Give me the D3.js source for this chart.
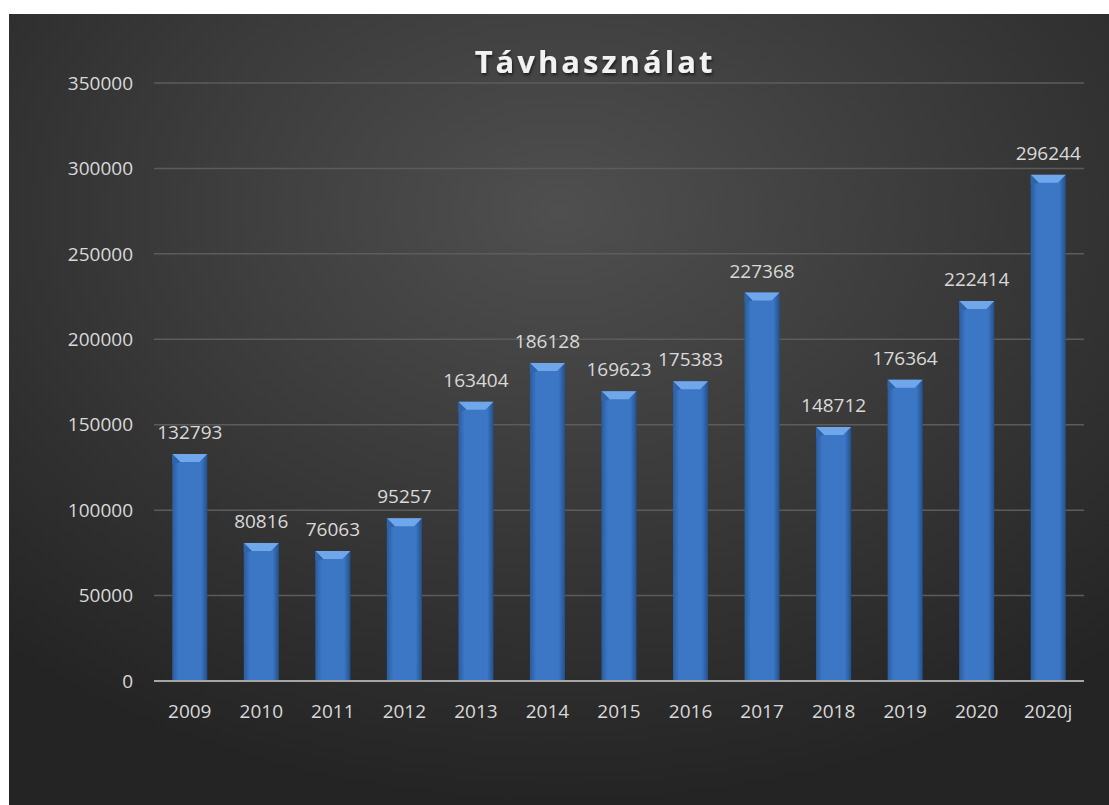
<!DOCTYPE html>
<html>
<head>
<meta charset="utf-8">
<script src="https://cdn.jsdelivr.net/npm/d3@7"></script>
<style>
  body { margin: 0; background: #fff; }
  text { font-family: "Open Sans", "DejaVu Sans", sans-serif; }
</style>
</head>
<body>
<svg id="chart"></svg>
<script>
const years = ['2009','2010','2011','2012','2013','2014','2015','2016','2017','2018','2019','2020','2020j'];
const values = [132793, 80816, 76063, 95257, 163404, 186128, 169623, 175383, 227368, 148712, 176364, 222414, 296244];
const yTicks = [0, 50000, 100000, 150000, 200000, 250000, 300000, 350000];

const W = 1109, H = 805;
const margin = {top: 83, right: 25, bottom: 124, left: 154};
const width = W - margin.left - margin.right;
const height = H - margin.top - margin.bottom;

const svg = d3.select('#chart').attr('width', W).attr('height', H);
const defs = svg.append('defs');

// background radial gradient
const bg = defs.append('radialGradient').attr('id', 'bg')
    .attr('cx', '50%').attr('cy', '25%').attr('r', '75%');
bg.append('stop').attr('offset', '0%').attr('stop-color', '#4f4f4f');
bg.append('stop').attr('offset', '100%').attr('stop-color', '#242424');

// bar gradient, darker at edges
const bar = defs.append('linearGradient').attr('id', 'barGrad')
    .attr('x1', '0%').attr('x2', '100%');
bar.append('stop').attr('offset', '0%').attr('stop-color', '#2b5c9c');
bar.append('stop').attr('offset', '18%').attr('stop-color', '#3b77c5');
bar.append('stop').attr('offset', '82%').attr('stop-color', '#3b77c5');
bar.append('stop').attr('offset', '100%').attr('stop-color', '#24508a');

const shadow = defs.append('filter').attr('id', 'shadow');
shadow.append('feDropShadow').attr('dx', 1).attr('dy', 2).attr('stdDeviation', 1.5)
    .attr('flood-color', '#000').attr('flood-opacity', 0.6);

svg.append('rect')
    .attr('x', 9).attr('y', 14)
    .attr('width', W - 9).attr('height', H - 14)
    .attr('fill', 'url(#bg)');

const chart = svg.append('g')
    .attr('transform', `translate(${margin.left},${margin.top})`);

const xScale = d3.scaleBand().domain(years).range([0, width]).paddingInner(0.51).paddingOuter(0.255);
const yScale = d3.scaleLinear().domain([0, 350000]).range([height, 0]);

// gridlines
chart.selectAll('.grid')
    .data(yTicks.slice(1))
  .join('line')
    .attr('class', 'grid')
    .attr('x1', 0).attr('x2', width)
    .attr('y1', d => yScale(d)).attr('y2', d => yScale(d))
    .attr('stroke', '#5c5c5c').attr('stroke-width', 1.5);

// y tick labels
chart.selectAll('.ylab')
    .data(yTicks)
  .join('text')
    .attr('class', 'ylab')
    .attr('x', -21)
    .attr('y', d => yScale(d))
    .attr('dy', '0.35em')
    .attr('text-anchor', 'end')
    .attr('fill', '#d9d9d9')
    .style('font-size', '19px')
    .text(d => d);

// bars
const bars = chart.selectAll('.bar')
    .data(years)
  .join('g')
    .attr('class', 'bar')
    .attr('transform', d => `translate(${xScale(d)},0)`);

bars.append('rect')
    .attr('x', 0)
    .attr('y', (d, i) => yScale(values[i]))
    .attr('width', xScale.bandwidth())
    .attr('height', (d, i) => height - yScale(values[i]))
    .attr('fill', 'url(#barGrad)');

// bevel on top of each bar
const bw = xScale.bandwidth();
bars.append('path')
    .attr('d', (d, i) => {
      const y = yScale(values[i]);
      return `M0,${y} L${bw},${y} L${bw - 8},${y + 8} L8,${y + 8} Z`;
    })
    .attr('fill', '#70a7ea');
bars.append('path')
    .attr('d', (d, i) => {
      const y = yScale(values[i]);
      return `M0,${y} L8,${y + 8} L0,${y + 10} Z`;
    })
    .attr('fill', '#2f64a8');

// value labels
chart.selectAll('.vlab')
    .data(years)
  .join('text')
    .attr('class', 'vlab')
    .attr('x', d => xScale(d) + bw / 2)
    .attr('y', (d, i) => yScale(values[i]) - 15)
    .attr('text-anchor', 'middle')
    .attr('fill', '#d9d9d9')
    .style('font-size', '19px')
    .text((d, i) => values[i]);

// x axis line
chart.append('line')
    .attr('x1', 0).attr('x2', width)
    .attr('y1', height).attr('y2', height)
    .attr('stroke', '#a6a6a6').attr('stroke-width', 2);

// x labels
chart.selectAll('.xlab')
    .data(years)
  .join('text')
    .attr('class', 'xlab')
    .attr('x', d => xScale(d) + bw / 2)
    .attr('y', height + 37)
    .attr('text-anchor', 'middle')
    .attr('fill', '#d9d9d9')
    .style('font-size', '19px')
    .text(d => d);

// title
svg.append('text')
    .attr('x', 595)
    .attr('y', 73)
    .attr('text-anchor', 'middle')
    .attr('fill', '#f2f2f2')
    .attr('filter', 'url(#shadow)')
    .style('font-size', '31px')
    .style('font-weight', 'bold')
    .style('letter-spacing', '3px')
    .text('Távhasználat');
</script>
</body>
</html>
